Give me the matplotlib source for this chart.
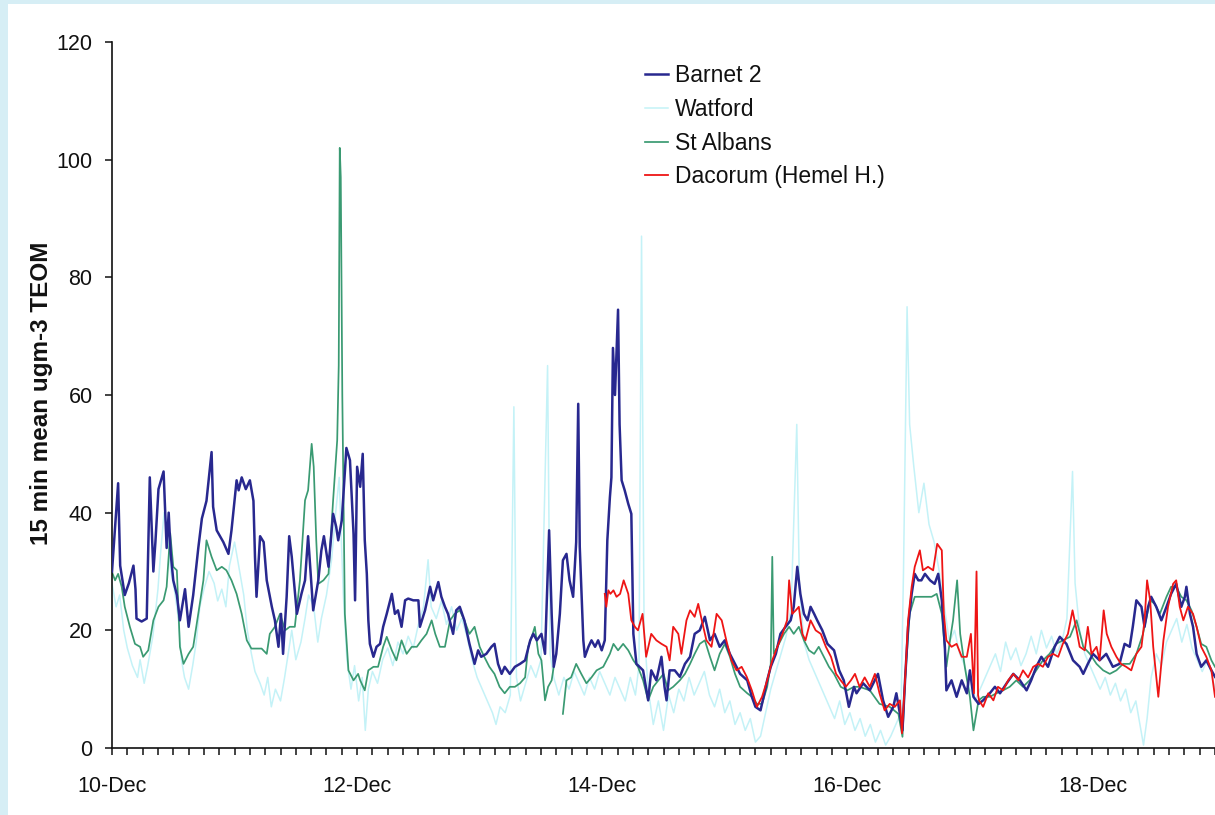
import numpy as np
import matplotlib
matplotlib.use('Agg')
import matplotlib.pyplot as plt
from matplotlib.patches import Rectangle

plt.rcParams['font.family'] = ['Liberation Sans', 'DejaVu Sans']

# ---------------- data (hours after 10-Dec 00:00, 15-min mean ugm-3) ----------------
day_ticks_hours = [0, 48, 96, 144, 192]
day_labels = ['10-Dec', '12-Dec', '14-Dec', '16-Dec', '18-Dec']
series_names = ['Barnet 2', 'Watford', 'St Albans', 'Dacorum (Hemel H.)']

barnet = [(0,30),(1.2,45),(1.6,31),(2.5,26),(3.3,28),(4.2,31),(4.6,27),(4.8,22),(5.8,21.5),(6.8,22),
 (7.4,46),(8.1,30),(8.5,35),(9.1,44),(10.1,47),(10.7,34),(11.1,40),(11.5,33),(12,28.5),(12.7,26),
 (13.3,21.7),(14.3,27),(15,20.6),(15.9,26),(16.9,34),(17.6,39),(18.5,42),(19.5,50.3),(19.8,41),(20.5,37),
 (21.8,35),(22.8,33),(23.4,37),(24.4,45.5),(24.8,43.8),(25.4,46),(26.2,44),(27,45.5),(27.7,42),(28,32.5),
 (28.3,25.7),(29,36),(29.7,35),(30.3,28.5),(31.3,24),(31.9,21.7),(32.6,17.2),(33.1,22.8),(33.5,16),(34.2,25.7),
 (34.7,36),(35.2,32.5),(36.2,22.8),(37.1,26.2),(37.8,28.5),(38.4,36),(39.4,23.4),(40.4,28.5),(41,33.6),(41.5,36),
 (42.4,30.8),(43.3,39.8),(43.9,37.6),(44.3,35.3),(45,38.7),(45.9,51),(46.6,48.9),(47.3,36.4),(47.6,25.1),(48,47.8),
 (48.6,44.4),(49.1,50),(49.5,35.3),(49.9,29.6),(50.2,21.7),(50.5,17.7),(51.2,15.5),(51.8,17.2),(52.5,17.7),(53.1,20.6),
 (53.8,22.8),(54.8,26.2),(55.4,22.8),(56,23.4),(56.7,20.6),(57.4,25.1),(58,25.4),(59,25.1),(60,25.1),(60.3,20.6),
 (61.3,23.4),(62.3,27.4),(62.9,25.1),(63.9,28.2),(64.5,25.7),(65.2,24),(65.8,22.8),(66.8,19.4),(67.4,23.4),(68.1,24),
 (69,21.7),(70,17.7),(71,14.3),(71.7,16.6),(72.3,15.5),(73.3,16),(74.3,17.2),(74.9,17.7),(75.6,14.3),(76.3,12.6),
 (76.9,13.8),(77.9,12.6),(78.9,13.8),(79.9,14.3),(80.9,14.9),(81.9,18.3),(82.5,19.4),(83.2,18.3),(84.1,19.4),(84.8,16),
 (85.6,37),(86.1,22.8),(86.5,13.8),(87,16),(87.7,22.8),(88.3,31.9),(89,33),(89.6,28.5),(90.3,25.7),(90.9,35),
 (91.3,58.5),(91.6,34.2),(92.3,18.3),(92.6,15.5),(93.3,17.2),(93.9,18.3),(94.6,17.2),(95.2,18.3),(95.9,16.6),(96.5,18.3),
 (97,35.3),(97.5,42.6),(97.8,46),(98.1,68),(98.5,60),(99.1,74.5),(99.4,55),(99.8,45.5),(100.4,43.8),(101.1,41.5),
 (101.7,39.8),(102.1,19.4),(102.7,14.3),(104,13.2),(105,8.1),(105.6,13.2),(106.6,11.5),(107.6,15.5),(108.2,10.4),(108.6,8.1),
 (109.2,13.2),(110.2,13.2),(111.2,12.1),(112.2,14.3),(113.2,15.5),(114.1,19.4),(115.1,20),(116.1,22.3),(117.1,18.3),(118,19.4),
 (119,17.2),(120,18.3),(121,16),(122,14.3),(123,12.6),(124.4,11.5),(125.3,8.7),(126,7),(127,6.4),(127.6,8.7),
 (128.3,11.5),(129,13.8),(130,16),(130.9,19.4),(131.9,20.6),(132.9,21.7),(133.5,24),(134.2,30.8),(134.8,26.2),(135.5,22.8),
 (136.2,21.7),(136.8,24),(137.5,22.8),(138.1,21.7),(139.1,20),(140.1,17.7),(141.4,16.6),(142.4,13.2),(143.3,11.5),(144.3,7),
 (145.3,10.4),(145.8,9.3),(147.1,11),(148.4,9.8),(150,12.6),(151,8.1),(152,5.3),(153,7),(153.6,9.3),(154.3,5.8),
 (154.8,3),(155.3,11.5),(155.9,20.6),(156.6,26.2),(157.2,29.6),(157.9,28.5),(158.5,28.5),(159.2,29.6),(160.2,28.5),(161.1,27.9),
 (161.8,29.6),(162.5,25.1),(163.1,17.2),(163.4,9.8),(164.4,11.5),(165.4,8.7),(166.4,11.5),(167.4,9.3),(168,13.2),(168.7,8.7),
 (169.7,7.5),(170.6,8.1),(171.9,9.3),(172.9,10.4),(173.9,9.3),(175.2,11),(176.5,12.6),(177.8,11.5),(179.1,9.8),(180,11.5),
 (181,13.8),(182,15.5),(183.3,13.8),(184.6,17.2),(185.6,18.9),(186.9,17.7),(188.2,14.9),(189.5,13.8),(190.2,12.6),(191.1,14.3),
 (192.1,16),(193.4,14.9),(194.7,16),(196,13.8),(197.3,14.3),(198.3,17.7),(199.3,17.2),(199.9,20.6),(200.6,25.1),(201.6,24),
 (202.2,20.6),(202.9,24),(203.5,25.7),(204.5,24),(205.5,21.7),(206.5,24),(207.4,26.2),(208.4,27.9),(209.4,24),(210.1,25.7),
 (210.4,27.4),(211.1,22.8),(211.7,20.6),(212.4,16),(213.3,13.8),(214.3,14.9),(215.3,13.2),(216,12.1)]

watford = [(0,28),(0.8,24),(1.5,26),(2.3,20),(3,17),(4,14),(5,12),(5.5,15),(6.3,11),(7,14),(8,19),(9,27),
 (9.5,33),(10.2,40),(10.8,37),(11.5,30),(12.2,27),(13,22),(13.6,15),(14.2,12),(15,10),(15.8,14),(16.5,18),(17.2,24),
 (18,27),(19,30),(20,28),(20.7,25),(21.5,27),(22.3,24),(23,31),(24,35),(25,30),(25.8,26),(26.5,20),(27.3,16),
 (28,13),(29,11),(29.8,9),(30.5,12),(31.2,7),(32,10),(33,8),(33.8,12),(34.5,16),(35.2,20),(36,15),(37,18),
 (37.8,22),(38.5,26),(39.5,24),(40.3,18),(41,22),(42,26),(43,32),(43.8,40),(44.5,46),(44.8,38),(45.3,26),(46,15),
 (46.8,10),(47.5,14),(48.3,8),(49,12),(49.6,3),(50.2,10),(51,13),(52,11),(53,15),(54,17),(55,14),(56,18),
 (57,16),(58,19),(59,17),(60,21),(61,24),(61.9,32),(62.5,24),(63.5,22),(64.5,25),(65.5,21),(66.5,24),(67.5,20),
 (68.5,22),(69.5,19),(70.5,15),(71.5,12),(72.5,10),(73.5,8),(74.5,6),(75.2,4),(76,7),(77,6),(78,9),(78.7,58),
 (79.2,12),(80,8),(81,11),(82,14),(83,12),(84,15),(85.3,65),(85.8,16),(86.5,12),(87.5,9),(88.5,12),(89.5,10),
 (90.5,13),(91.5,11),(92.5,9),(93.5,12),(94.5,10),(95.5,13),(96.5,11),(97.5,9),(98.5,12),(99.5,10),(100.5,8),(101.5,12),
 (102.5,9),(103.2,14),(103.7,87),(104.2,20),(105,10),(106,4),(107,8),(108,3),(109,9),(110,6),(111,10),(112,8),
 (113,12),(114,9),(115,11),(116,13),(117,9),(118,7),(119,10),(120,6),(121,8),(122,4),(123,6),(124,3),
 (125,5),(126,1),(127,2),(128,6),(129,10),(130,13),(131,16),(132,19),(133,24),(134.1,55),(134.6,28),(135.5,18),
 (136.5,15),(137.5,13),(138.5,11),(139.5,9),(140.5,7),(141.5,5),(142.5,8),(143.5,4),(144.5,6),(145.5,3),(146.5,5),(147.5,2),
 (148.5,4),(149.5,1),(150.5,3),(151.5,0.5),(152.5,2),(153.5,4),(154.5,6),(155,30),(155.7,75),(156.2,55),(157,48),(158,40),
 (159,45),(160,38),(161,35),(162,30),(163,24),(164,18),(165,20),(166,16),(167,14),(168,10),(169,8),(170,10),
 (171,12),(172,14),(173,16),(174,13),(175,18),(176,15),(177,17),(178,14),(179,16),(180,19),(181,16),(182,20),
 (183,17),(184,19),(185,16),(186,18),(187,22),(188.1,47),(188.6,28),(189.5,20),(190.5,16),(191.5,14),(192.5,12),(193.5,10),
 (194.5,12),(195.5,9),(196.5,11),(197.5,8),(198.5,10),(199.5,6),(200.5,8),(201.5,3),(202,0.5),(202.7,5),(203.5,12),(204.5,16),
 (205.5,14),(206.5,18),(207.5,20),(208.5,22),(209.5,18),(210.5,21),(211.5,17),(212.5,15),(213.5,13),(214.5,15),(215.5,12),(216,10)]

st_albans = [(0,29.9),(0.6,28.5),(1.2,29.6),(1.9,27.4),(2.5,24),(3.5,20.6),(4.5,17.7),(5.5,17.2),(6.1,15.5),(7.1,16.6),
 (8.1,21.7),(9.1,24),(10.1,25.1),(10.7,27.4),(11.4,36.5),(12,30.8),(12.7,30.2),(13.3,17.2),(14,14.3),(15,16),
 (15.9,17.2),(16.9,22.8),(17.9,28.5),(18.5,35.3),(19.5,32.5),(20.5,30.2),(21.5,30.8),(22.4,30.2),(23.4,28.5),(24.4,26.2),
 (25.4,22.8),(26.4,18.3),(27.3,16.9),(28.3,16.9),(29.3,16.9),(30.3,16),(30.9,19.4),(31.9,20.6),(32.9,22.8),(33.9,20),
 (34.8,20.6),(35.8,20.6),(36.8,28.5),(37.8,42.1),(38.4,43.8),(39.1,51.7),(39.5,47.8),(40,35.3),(40.4,27.9),(41.4,28.5),
 (42.4,29.6),(43.3,42.1),(44.1,52.3),(44.4,65),(44.6,102),(44.8,97),(45.1,60),(45.6,22.8),(46.3,13.2),(47.3,11.5),
 (48.2,12.6),(48.6,11.5),(49.5,9.8),(50.2,13.2),(51.2,13.8),(52.1,13.8),(53.1,17.2),(53.8,18.9),(54.8,16.6),(55.7,14.9),
 (56.7,18.3),(57.7,16),(58.7,17.2),(59.7,17.2),(60.6,18.3),(61.6,19.4),(62.6,21.7),(63.3,19.4),(64.2,17.2),(65.2,17.2),
 (66.2,21.7),(67.1,22.8),(68.1,23.4),(69,21.7),(70,19.4),(71,20.6),(72,17.2),(72.9,15.5),(73.9,13.8),(74.9,12.6),
 (75.9,10.4),(76.9,9.3),(77.9,10.4),(78.9,10.4),(79.9,11),(80.9,12),(81.5,17.2),(82.2,18.9),(82.8,20.6),(83.5,16),
 (84.1,14.9),(84.8,8.1),(85.4,10.4),(86.1,11.5),(86.5,13.8),(87.4,np.nan),(88.3,5.8),(89,11.5),(89.9,12),(90.9,14.3),
 (91.9,12.6),(92.9,11),(93.9,12),(94.9,13.2),(96.2,13.8),(97.5,16),(98.2,17.7),(99.1,16.6),(100.1,17.7),(101.1,16.6),
 (102.1,14.9),(103,13.8),(104,11.5),(105,8.1),(106,10.4),(107,11.5),(108,12.6),(108.9,9.8),(109.9,10.4),(111.2,11.5),
 (112.2,12.6),(113.2,14.3),(114.1,16),(115.1,17.7),(116.1,18.3),(117.1,15.5),(118,13.2),(119,16),(120,17.7),(121,15.5),
 (122,12.6),(123,10.4),(124.4,9.3),(125.3,8.7),(126.3,7.5),(127.3,7.5),(128.3,10.4),(129,14.3),(129.3,32.5),(129.6,16),
 (130.6,17.7),(131.6,19.4),(132.6,20.6),(133.5,19.4),(134.5,20.6),(135.5,18.3),(136.5,16.6),(137.5,16),(138.4,17.2),(139.4,15.5),
 (140.4,13.8),(141.4,12.6),(142.7,10.4),(144,9.8),(145.3,10.4),(146.4,10.4),(148.4,9.8),(150.3,7.5),(152.3,7),(154,5.8),
 (154.8,1.9),(155.3,11.5),(156.2,22.8),(157.2,25.7),(158.2,25.7),(159.2,25.7),(160.5,25.7),(161.5,26.2),(162.5,22.8),(163.4,13.8),
 (164.1,18.3),(164.7,21.7),(165.5,28.5),(166.1,19.4),(167,13.8),(168,8.7),(168.7,3),(169.7,8.1),(170.6,8.7),(171.9,8.7),
 (173.2,9.3),(174.5,9.8),(175.8,10.4),(177.1,11.5),(178.4,10.4),(179.7,11.5),(181,13.2),(182.3,14.9),(183.6,16),(184.9,17.7),
 (186.2,18.3),(187.6,18.9),(188.9,21.7),(190.2,17.2),(191.5,16),(192.8,14.3),(194.1,13.2),(195.4,12.6),(196.7,13.2),(198,14.3),
 (199.3,14.3),(200.6,16),(201.9,19.4),(203.3,25.1),(204.2,24.5),(205.2,22.8),(206.5,25.7),(207.4,27.4),(208.4,27.4),(209.4,25.7),
 (210.4,25.1),(211.4,23.4),(212.4,20.6),(213.3,17.7),(214.3,17.2),(215.3,14.9),(216,13.8)]

dacorum = [(96.5,26.2),(96.8,24),(97.2,26.8),(97.6,26.2),(98.2,26.8),(98.8,25.7),(99.5,26.2),(100.2,28.5),(101.1,26.2),(101.7,21.7),
 (102.4,20.6),(103,20),(103.9,22.8),(104.6,15.5),(105.6,19.4),(106.6,18.3),(107.6,17.7),(108.6,17.2),(109.2,14.9),(109.9,20.6),
 (110.9,19.4),(111.5,16),(112.5,21.7),(113.2,23.4),(114.1,22.3),(114.8,24.5),(115.5,21.7),(116.4,18.3),(117.4,17.2),(118.4,22.8),
 (119.4,21.7),(120.3,18.3),(121.3,14.9),(122.3,13.2),(123.3,13.8),(124.3,12.1),(125.3,9.8),(126.3,7),(127.3,8.7),(128.3,11.5),
 (129.3,14.9),(130.3,17.2),(131.3,19.4),(132.2,21.7),(132.6,28.5),(133.2,22.8),(133.9,23.4),(134.5,24),(135.2,19.4),(135.8,18.3),
 (136.8,21.7),(137.8,20),(138.8,19.4),(139.8,17.2),(140.8,15.5),(141.8,12.6),(142.7,11.5),(143.7,10.4),(144.7,11.5),(145.5,12.6),
 (146.4,10.4),(147.4,12),(148.4,10.4),(149.4,12.6),(150.3,9.3),(151.3,6.4),(152.3,7.5),(153.3,7),(154.3,8.1),(154.7,2.5),
 (155.3,11.5),(155.9,21.7),(156.6,27.4),(157.2,30.8),(158.2,33.6),(158.8,30.2),(159.8,30.8),(160.8,30.2),(161.6,34.7),(162.5,33.6),
 (162.9,22.8),(163.4,18.3),(164.4,17.2),(165.4,17.7),(166.4,15.5),(167.4,15.5),(168.2,19.4),(168.8,9.3),(169.3,30),(169.6,9),
 (169.8,8.1),(170.6,7),(171.6,9.3),(172.6,8.1),(173.5,10.4),(174.5,9.8),(175.5,11.5),(176.5,12.6),(177.5,11.5),(178.4,13.2),
 (179.4,12),(180.4,13.8),(181.4,14.3),(182.3,13.8),(183.3,15.5),(184.3,16),(185.3,15.5),(186.2,17.7),(187.2,19.4),(188.1,23.4),
 (188.9,20),(189.5,17.2),(190.5,16.6),(191.1,20.6),(191.8,16),(192.8,17.2),(193.4,14.9),(194.2,23.4),(194.8,19.4),(195.7,17.2),
 (196.7,15.5),(197.6,14.3),(198.6,13.8),(199.6,13.2),(200.6,16),(201.6,17.2),(202.2,21.7),(202.7,28.5),(203.3,25.1),(203.9,17.2),
 (204.9,8.7),(205.9,18.3),(206.8,24),(207.8,27.9),(208.4,28.5),(209.1,24),(209.8,21.7),(210.7,24),(211.7,22.8),(212.4,20.6),
 (213.3,17.2),(214.3,15.5),(215.3,13.2),(216,8.7)]

# ---------------- figure ----------------
W, H = 1215, 815
fig = plt.figure(figsize=(W / 100, H / 100), dpi=100)
fig.patch.set_facecolor('#d6eef5')
fig.add_artist(Rectangle((8 / W, 0), 1, 1 - 4 / H, transform=fig.transFigure,
                         facecolor='white', edgecolor='none', zorder=-5))

ax = fig.add_axes([112 / W, 1 - 748 / H, 1 - 112 / W, (748 - 42) / H])
ax.set_facecolor('none')

colors = {'Barnet 2': '#28288f', 'Watford': '#c4f2f7',
          'St Albans': '#3a9a72', 'Dacorum (Hemel H.)': '#ee1515'}
data = {'Barnet 2': barnet, 'Watford': watford, 'St Albans': st_albans,
        'Dacorum (Hemel H.)': dacorum}
widths = {'Barnet 2': 1.8, 'Watford': 1.1, 'St Albans': 1.25, 'Dacorum (Hemel H.)': 1.3}
zorders = {'Watford': 1, 'St Albans': 2, 'Barnet 2': 3, 'Dacorum (Hemel H.)': 4}

handles = {}
for name in series_names:
    arr = np.array(data[name], dtype=float)
    ln, = ax.plot(arr[:, 0], arr[:, 1], color=colors[name], lw=widths[name],
                  zorder=zorders[name], label=name, solid_joinstyle='round')
    handles[name] = ln

ax.set_xlim(0, 216)
ax.set_ylim(0, 120)

for s in ['top', 'right']:
    ax.spines[s].set_visible(False)
for s in ['left', 'bottom']:
    ax.spines[s].set_linewidth(1.2)
    ax.spines[s].set_color('#111111')

xt = np.arange(0, 217, 3)
ax.set_xticks(xt)
lab_map = dict(zip(day_ticks_hours, day_labels))
ax.set_xticklabels([lab_map.get(int(t), '') for t in xt])
ax.set_yticks(np.arange(0, 121, 20))
ax.tick_params(axis='x', direction='out', length=5, width=1.1, pad=15,
               labelsize=15.5, colors='#111111')
ax.tick_params(axis='y', direction='out', length=5, width=1.1, pad=9,
               labelsize=15.5, colors='#111111')

fig.text(42 / W, 1 - 393 / H, '15 min mean ugm-3 TEOM', rotation=90,
         ha='center', va='center', fontsize=17.5, fontweight='bold', color='#111111')

leg = fig.legend([handles[n] for n in series_names], series_names,
                 loc='upper left', bbox_to_anchor=(645 / W, 1 - 64 / H),
                 frameon=False, fontsize=16.5, handlelength=1.0,
                 handletextpad=0.3, labelspacing=0.47, borderpad=0,
                 borderaxespad=0)
for t in leg.get_texts():
    t.set_color('#111111')

fig.savefig('out.png', dpi=100, facecolor=fig.get_facecolor())
